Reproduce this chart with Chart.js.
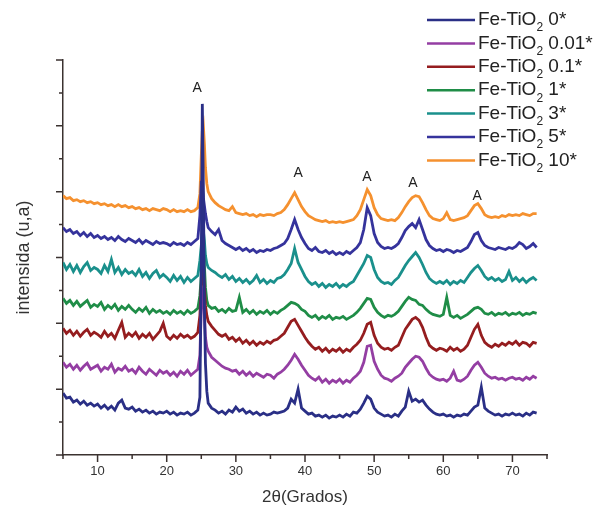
<!DOCTYPE html>
<html>
<head>
<meta charset="utf-8">
<script src="https://cdn.jsdelivr.net/npm/chart.js@4.4.1/dist/chart.umd.min.js"></script>
<style>
body { margin: 0; background: #fff; }
#wrap { width: 596px; height: 515px; }
</style>
</head>
<body>
<div id="wrap"><canvas id="xrd" width="596" height="515"></canvas></div>
<script>
// 2theta positions (degrees), shared by all patterns
const twoTheta = [
  5, 5.5, 6, 6.5, 7, 7.5, 8, 8.5, 9, 9.5,
  10, 10.5, 11, 11.5, 12, 12.5, 13, 13.5, 14, 14.5,
  15, 15.5, 16, 16.5, 17, 17.5, 18, 18.5, 19, 19.5,
  20, 20.5, 21, 21.5, 22, 22.5, 23, 23.5, 24, 24.5,
  24.8, 25, 25.15, 25.3, 25.45, 25.6, 25.8,
  26, 26.5, 27, 27.5, 28, 28.5, 29, 29.5,
  30, 30.5, 31, 31.5, 32, 32.5, 33, 33.5, 34, 34.5,
  35, 35.5, 36, 36.5, 37, 37.5, 38, 38.5, 39, 39.5,
  40, 40.5, 41, 41.5, 42, 42.5, 43, 43.5, 44, 44.5,
  45, 45.5, 46, 46.5, 47, 47.5, 48, 48.5, 49, 49.5,
  50, 50.5, 51, 51.5, 52, 52.5, 53, 53.5, 54, 54.5,
  55, 55.5, 56, 56.5, 57, 57.5, 58, 58.5, 59, 59.5,
  60, 60.5, 61, 61.5, 62, 62.5, 63, 63.5, 64, 64.5,
  65, 65.5, 66, 66.5, 67, 67.5, 68, 68.5, 69, 69.5,
  70, 70.5, 71, 71.5, 72, 72.5, 73, 73.5
];

// intensities (u.a.), already stacked as in the figure
const fe0 = [
  62, 57, 58, 53, 55, 51, 54, 50, 52, 49,
  51, 47, 50, 46, 49, 45, 52, 55, 47, 46,
  48, 44, 46, 43, 45, 42, 44, 41, 43, 42,
  44, 41, 43, 40, 42, 41, 43, 40, 42, 45,
  58, 190, 352, 270, 150, 92, 64,
  52, 47, 45, 42, 44, 41, 45, 43,
  48, 44, 46, 42, 44, 41, 43, 40, 42, 40,
  41, 43, 42, 43, 44, 47, 56, 52, 66, 47,
  44, 41, 42, 39, 40, 38, 40, 37, 39, 38,
  40, 38, 41, 39, 43, 42, 46, 52, 59, 56,
  47, 43, 41, 39, 40, 38, 41, 39, 44, 48,
  64, 54, 56, 53, 55, 50, 46, 43, 41, 40,
  41, 39, 40, 38, 40, 39, 41, 40, 44, 48,
  50, 68, 47, 44, 42, 40, 41, 39, 41, 40,
  42, 40, 41, 39, 42, 40, 43, 42
];
const fe001 = [
  93, 88, 91, 86, 90, 85, 89, 92, 86, 88,
  90, 84, 88, 86, 91, 83, 87, 85, 89, 84,
  86, 82, 88, 84, 81, 86, 83, 80, 85, 82,
  84, 80, 83, 79, 84, 81, 85, 80, 83, 86,
  100, 150, 168, 160, 140, 118, 108,
  104, 98, 95, 92, 89, 87, 86, 84,
  85, 81, 84, 80, 83, 79, 82, 80, 78, 81,
  80, 77, 81, 83, 86, 90, 95, 101, 96, 90,
  85, 80, 77, 75, 78, 73, 76, 72, 75, 73,
  76, 72, 75, 73, 77, 80, 84, 93, 109, 110,
  94, 86, 80, 77, 76, 74, 77, 79, 82, 88,
  92, 96, 99, 98, 94, 87, 81, 78, 76, 75,
  76, 74, 77, 84, 75, 74, 76, 79, 85, 90,
  93, 88, 82, 79, 77, 78, 76, 77, 75, 77,
  78, 76, 77, 75, 78, 76, 79, 77
];
const fe01 = [
  127, 122, 125, 120, 124, 119, 123, 126, 120, 123,
  121, 118, 124, 119, 122, 117, 125, 133, 118, 122,
  119, 123, 117, 121, 118, 122, 116, 120, 124, 132,
  119, 116, 120, 117, 121, 118, 120, 117, 119, 123,
  140, 170, 188, 182, 168, 150, 140,
  134, 129, 125, 121, 119, 121, 116, 118,
  114, 117, 112, 115, 111, 114, 110, 113, 111, 114,
  112, 115, 116, 119, 122, 128, 134, 136, 130, 124,
  118, 113, 109, 106, 108, 104, 107, 103, 106, 104,
  107, 103, 106, 104, 108, 111, 115, 122, 131, 133,
  120, 112, 108, 106, 107, 105, 108, 110, 118, 126,
  131, 136, 138, 135, 128, 118, 110, 107, 105, 107,
  106, 104, 108, 105, 107, 104, 106, 110, 118, 126,
  131, 120, 113, 110, 108, 111, 109, 112, 110, 113,
  111, 114, 110, 113, 112, 109, 113, 112
];
const fe1 = [
  157, 152, 155, 150, 154, 149, 152, 155, 148, 151,
  149, 153, 146, 150, 147, 151, 145, 149, 146, 150,
  146, 143, 147, 144, 148, 142, 146, 143, 145, 142,
  144, 141, 145, 142, 144, 141, 145, 142, 144, 147,
  160, 180, 200, 205, 190, 168, 155,
  150, 147, 148, 144, 146, 143, 147, 144,
  145, 158, 143, 146, 142, 145, 141, 144, 142, 145,
  141, 144, 142, 145, 147, 150, 153, 152, 150, 146,
  144, 140, 138, 140, 136, 139, 137, 140, 136, 138,
  137, 139, 136, 138, 140, 143, 147, 152, 157, 156,
  148, 143, 140, 138, 140, 139, 141, 144, 149, 154,
  158, 156, 155, 151, 150, 146, 143, 141, 140, 139,
  141, 158, 140, 138, 140, 137, 139, 141, 144, 147,
  148, 146, 142, 141, 143, 140, 142, 141, 143, 140,
  142, 141, 143, 140, 142, 141, 143, 142
];
const fe3 = [
  193, 186, 191, 184, 190, 183, 189, 193, 185, 188,
  186, 182, 190, 184, 196, 183, 188, 181, 186, 182,
  184, 180, 186, 179, 183, 177, 182, 185, 178, 181,
  178, 174, 180, 175, 179, 173, 178, 174, 177, 180,
  195, 210, 222, 225, 215, 200, 192,
  188, 185, 183, 180, 178, 181, 176, 179,
  174, 177, 173, 176, 172, 175, 180, 173, 176, 172,
  175, 173, 177, 178, 181, 186, 192, 207, 193, 186,
  179, 174, 171, 173, 169, 172, 168, 171, 169, 172,
  168, 171, 169, 172, 174, 180, 186, 192, 200, 198,
  186, 178, 174, 172, 173, 171, 175, 178, 184, 190,
  195, 199, 203, 198, 191, 183, 177, 174, 172, 174,
  172, 175, 171, 174, 172, 175, 173, 178, 183, 187,
  190, 185, 179, 176, 178, 175, 177, 174, 176, 184,
  175, 178, 174, 177, 173, 176, 178, 175
];
const fe5 = [
  228, 224, 226, 222, 224, 220, 223, 219, 222, 218,
  220, 217, 219, 216, 218, 215, 219, 216, 214, 217,
  215, 213, 216, 212, 215, 213, 211, 214, 212, 213,
  212, 210, 213, 211, 212, 210, 213, 211, 214, 217,
  240, 275, 268, 258, 250, 242, 234,
  228, 224, 221, 226, 215, 212, 210, 208,
  206, 208, 205, 207, 204, 206, 203, 205, 204, 206,
  205, 207, 208, 210, 212, 217, 226, 236, 226, 218,
  212, 207, 205, 208, 204, 203, 205, 202, 204, 201,
  203, 201, 204, 202, 205, 208, 213, 226, 248, 240,
  222, 213, 209, 207, 208, 207, 209, 212, 218, 225,
  229, 232, 228, 236, 226, 216, 210, 207, 205, 206,
  204, 206, 205, 203, 205, 204, 206, 208, 214, 221,
  223, 215, 210, 208, 207, 206, 208, 207, 206, 208,
  207, 209, 213, 211, 207, 209, 212, 208
];
const fe10 = [
  260, 257, 258, 255, 256, 254, 255, 253, 254, 252,
  253, 251, 252, 250, 251, 249, 251, 249, 250, 248,
  249, 247, 248, 246, 247, 245, 247, 246, 245, 247,
  246, 244, 246, 244, 245, 244, 246, 244, 245, 248,
  262, 300, 325, 330, 312, 288, 272,
  264, 257, 253, 250, 248, 246, 245, 249,
  243, 242, 241, 242, 240, 241, 239, 241, 240, 241,
  241, 240, 242, 243, 246, 251, 257, 263, 256, 249,
  244, 240, 238, 236, 235, 234, 235, 233, 234, 233,
  234, 233, 234, 235, 236, 240, 246, 256, 266, 260,
  248, 241, 237, 236, 235, 236, 235, 238, 243, 249,
  254, 258, 260, 259, 253, 246, 240, 237, 236, 235,
  237, 243, 236, 235, 236, 237, 238, 240, 245, 250,
  252, 247, 241, 239, 238, 239, 238, 240, 239, 241,
  240, 241, 240, 242, 241, 240, 242, 242
];

const loadings = ['0', '0.01', '0.1', '1', '3', '5', '10'];
const patterns = [fe0, fe001, fe01, fe1, fe3, fe5, fe10];
const lineColors = ['#2a2f86', '#943ea3', '#951d1f', '#1f8d47', '#1a908c', '#35339c', '#f5912f'];

// anatase peak markers
const peakLabelX = [24.4, 39.0, 48.95, 55.6, 64.9];
const peakLabelY = [368, 283, 279, 273, 260];

const axisColor = '#3b3230';
const fontFam = '"Liberation Sans", Arial, sans-serif';
Chart.defaults.font.family = fontFam;
Chart.defaults.color = '#333';

const tickMarks = {
  id: 'tickMarks',
  afterDraw(chart) {
    const ctx = chart.ctx;
    const xs = chart.scales.x, ys = chart.scales.y;
    ctx.save();
    ctx.strokeStyle = axisColor;
    ctx.lineWidth = 1.5;
    ctx.beginPath();
    xs.ticks.forEach(t => {
      const px = xs.getPixelForValue(t.value);
      const len = t.value % 10 === 0 ? 7 : 4;
      ctx.moveTo(px, xs.top);
      ctx.lineTo(px, xs.top + len);
    });
    ys.ticks.forEach(t => {
      const py = ys.getPixelForValue(t.value);
      const len = Math.round(t.value / 33) % 2 === 0 ? 7 : 4;
      ctx.moveTo(ys.right, py);
      ctx.lineTo(ys.right - len, py);
    });
    ctx.stroke();
    ctx.restore();
  }
};

const peakLabels = {
  id: 'peakLabels',
  afterDraw(chart) {
    const ctx = chart.ctx;
    const xs = chart.scales.x, ys = chart.scales.y;
    ctx.save();
    ctx.fillStyle = '#222';
    ctx.font = '14px ' + fontFam;
    ctx.textAlign = 'center';
    ctx.textBaseline = 'middle';
    peakLabelX.forEach((x, i) => {
      ctx.fillText('A', xs.getPixelForValue(x), ys.getPixelForValue(peakLabelY[i]));
    });
    ctx.restore();
  }
};

const legendBox = {
  id: 'legendBox',
  afterDraw(chart) {
    const ctx = chart.ctx;
    ctx.save();
    ctx.textBaseline = 'middle';
    ctx.textAlign = 'left';
    chart.data.datasets.forEach((ds, i) => {
      const y = 20 + i * 23.4;
      ctx.strokeStyle = ds.borderColor;
      ctx.lineWidth = 2.5;
      ctx.beginPath();
      ctx.moveTo(427, y);
      ctx.lineTo(475, y);
      ctx.stroke();
      ctx.fillStyle = '#222';
      let x = 478;
      ctx.font = '19px ' + fontFam;
      ctx.fillText('Fe-TiO', x, y);
      x += ctx.measureText('Fe-TiO').width;
      ctx.font = '12px ' + fontFam;
      ctx.fillText('2', x, y + 8);
      x += ctx.measureText('2').width;
      ctx.font = '19px ' + fontFam;
      ctx.fillText(' ' + loadings[i] + '*', x, y);
    });
    ctx.restore();
  }
};

new Chart('xrd', {
  type: 'line',
  data: {
    datasets: patterns.map((p, i) => ({
      label: 'Fe-TiO2 ' + loadings[i] + '*',
      data: p.map((v, j) => ({ x: twoTheta[j], y: v })),
      borderColor: lineColors[i],
      backgroundColor: lineColors[i],
      borderWidth: 2.8,
      pointRadius: 0,
      tension: 0,
      fill: false
    }))
  },
  options: {
    responsive: false,
    animation: false,
    layout: { padding: { top: 60, right: 49, bottom: 0, left: 0 } },
    plugins: { legend: { display: false }, tooltip: { enabled: false } },
    scales: {
      x: {
        type: 'linear',
        min: 5,
        max: 75,
        afterFit: (s) => { s.height = 60; },
        border: { color: axisColor, width: 1.5 },
        grid: { display: true, drawOnChartArea: false, drawTicks: false },
        ticks: {
          stepSize: 5,
          padding: 9,
          font: { size: 13 },
          color: '#333',
          callback: (v) => (v % 10 === 0 ? v : '')
        },
        title: { display: true, text: '2θ(Grados)', font: { size: 17 }, color: '#333', padding: { bottom: 7 } }
      },
      y: {
        min: 0,
        max: 396,
        afterFit: (s) => { s.width = 63; },
        border: { color: axisColor, width: 1.5 },
        grid: { display: true, drawOnChartArea: false, drawTicks: false },
        ticks: { stepSize: 33, display: false },
        title: { display: true, text: 'intensida (u,a)', font: { size: 18 }, color: '#333', padding: { top: 13 } }
      }
    }
  },
  plugins: [tickMarks, peakLabels, legendBox]
});
</script>
</body>
</html>
